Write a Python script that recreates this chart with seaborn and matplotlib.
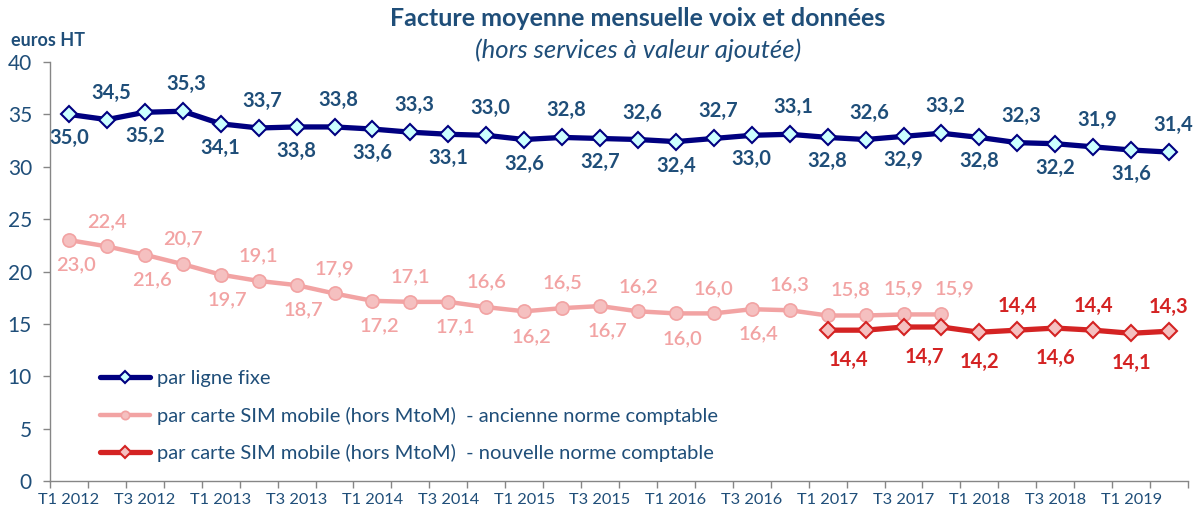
import matplotlib
matplotlib.use("Agg")
import matplotlib.pyplot as plt
import seaborn as sns
import pandas as pd
import numpy as np

# ---------------- data ----------------
quarters = [f"T{q} {y}" for y in range(2012, 2020) for q in (1, 2, 3, 4)][:30]
fixe = [35.0, 34.5, 35.2, 35.3, 34.1, 33.7, 33.8, 33.8, 33.6, 33.3, 33.1, 33.0,
        32.6, 32.8, 32.7, 32.6, 32.4, 32.7, 33.0, 33.1, 32.8, 32.6, 32.9, 33.2,
        32.8, 32.3, 32.2, 31.9, 31.6, 31.4]
mobile_ancienne = [23.0, 22.4, 21.6, 20.7, 19.7, 19.1, 18.7, 17.9, 17.2, 17.1, 17.1, 16.6,
                   16.2, 16.5, 16.7, 16.2, 16.0, 16.0, 16.4, 16.3, 15.8, 15.8, 15.9, 15.9]
mobile_nouvelle = [14.4, 14.4, 14.7, 14.7, 14.2, 14.4, 14.6, 14.4, 14.1, 14.3]
nouvelle_start = 20

series_labels = ["par ligne fixe",
                 "par carte SIM mobile (hors MtoM)  - ancienne norme comptable",
                 "par carte SIM mobile (hors MtoM)  - nouvelle norme comptable"]
title = "Facture moyenne mensuelle voix et données"
subtitle = "(hors services à valeur ajoutée)"
y_unit = "euros HT"

# ---------------- style ----------------
sns.set_theme(style="white")
plt.rcParams['font.family'] = ['Lato', 'DejaVu Sans']

TXT = "#1F4E79"
NAVY = "#000080"
PINK = "#F2A3A3"
PINK_FACE = "#F5C0C0"
RED = "#D42323"
AXIS = "#868686"

fig = plt.figure(figsize=(12.02, 5.15), dpi=100)
ax = fig.add_axes([50/1202, 34/515, 1138/1202, 419/515])

df_fixe = pd.DataFrame({"idx": np.arange(len(fixe)), "val": fixe})
df_anc = pd.DataFrame({"idx": np.arange(len(mobile_ancienne)), "val": mobile_ancienne})
df_nouv = pd.DataFrame({"idx": np.arange(nouvelle_start, nouvelle_start + len(mobile_nouvelle)),
                        "val": mobile_nouvelle})

sns.lineplot(data=df_fixe, x="idx", y="val", ax=ax, color=NAVY, linewidth=3.8,
             marker="D", markersize=8, markerfacecolor="#CCFFFF", markeredgecolor=NAVY,
             markeredgewidth=1.5, label=series_labels[0], zorder=3)
sns.lineplot(data=df_anc, x="idx", y="val", ax=ax, color=PINK, linewidth=3.2,
             marker="o", markersize=9.5, markerfacecolor=PINK_FACE, markeredgecolor=PINK,
             markeredgewidth=1.2, label=series_labels[1], zorder=3)
sns.lineplot(data=df_nouv, x="idx", y="val", ax=ax, color=RED, linewidth=3.8,
             marker="D", markersize=8, markerfacecolor=PINK_FACE, markeredgecolor=RED,
             markeredgewidth=1.5, label=series_labels[2], zorder=4)

def fmt(v):
    return f"{v:.1f}".replace(".", ",")

LAB_FS = 14.5
lab_kw = dict(textcoords="offset pixels", ha="center", va="center",
              fontsize=LAB_FS, fontweight="bold")

# fixed line labels: even below, odd above
for i, v in enumerate(fixe):
    dy = -24 if i % 2 == 0 else 27
    ax.annotate(fmt(v), (i, v), xytext=(4 if i % 2 else 0, dy), color=TXT, **lab_kw)

# old mobile labels
for i, v in enumerate(mobile_ancienne):
    if i == 20:
        continue
    if i >= 21:
        dx = {21: -15, 22: 0, 23: 13}[i]
        ax.annotate(fmt(v), (i, v), xytext=(dx, 26), color=PINK,
                    textcoords="offset pixels", ha="center", va="center",
                    fontsize=LAB_FS, fontweight="semibold")
        continue
    dy = -25 if i % 2 == 0 else 25
    ax.annotate(fmt(v), (i, v), xytext=(7 if i % 2 == 0 else 0, dy), color=PINK,
                textcoords="offset pixels", ha="center", va="center",
                fontsize=LAB_FS, fontweight="semibold")

# new mobile labels
for k, v in enumerate(mobile_nouvelle):
    i = nouvelle_start + k
    if i in (21, 23):
        continue
    if i in (20, 22):
        ax.annotate(fmt(v), (i, v), xytext=(21, -30), color=RED, **lab_kw)
        continue
    dy = -30 if i % 2 == 0 else 24
    ax.annotate(fmt(v), (i, v), xytext=(0, dy), color=RED, **lab_kw)

# ---------------- axes ----------------
ax.set_xlim(-0.5, len(quarters) - 0.5)
ax.set_ylim(0, 40)
ax.set_yticks(np.arange(0, 41, 5))
ax.set_yticklabels([str(t) for t in range(0, 41, 5)])
ax.set_xticks(np.arange(-0.5, len(quarters), 1.0))
ax.set_xticklabels([])
ax.set_xticks(np.arange(0, len(quarters), 2), minor=True)
ax.set_xticklabels(quarters[::2], minor=True)
ax.tick_params(axis="x", which="major", direction="out", length=5, width=1, color=AXIS, bottom=True)
ax.tick_params(axis="x", which="minor", length=0, labelsize=11.8, labelcolor=TXT, pad=9)
ax.tick_params(axis="y", direction="out", length=5, width=1, color=AXIS, left=True,
               labelsize=15, labelcolor=TXT, pad=8)
ax.set_xlabel("")
ax.set_ylabel("")
for s in ("top", "right"):
    ax.spines[s].set_visible(False)
for s in ("left", "bottom"):
    ax.spines[s].set_color(AXIS)
    ax.spines[s].set_linewidth(1)

leg = ax.legend(loc="center left", bbox_to_anchor=(0.044, 0.155), frameon=False,
                handlelength=2.5, handletextpad=0.35, labelspacing=0.95, fontsize=14.5,
                labelcolor=TXT, borderaxespad=0, borderpad=0)
for h in leg.legend_handles:
    h.set_markersize(6)

fig.text(638/1202, 1 - 19/515, title, ha="center", va="center", fontsize=18,
         fontweight="bold", color=TXT)
fig.text(638/1202, 1 - 50/515, subtitle, ha="center", va="center", fontsize=18.5,
         fontstyle="italic", color=TXT)
fig.text(11/1202, 1 - 40/515, y_unit, ha="left", va="center", fontsize=13,
         fontweight="bold", color=TXT)

fig.savefig("out.png", dpi=100)
